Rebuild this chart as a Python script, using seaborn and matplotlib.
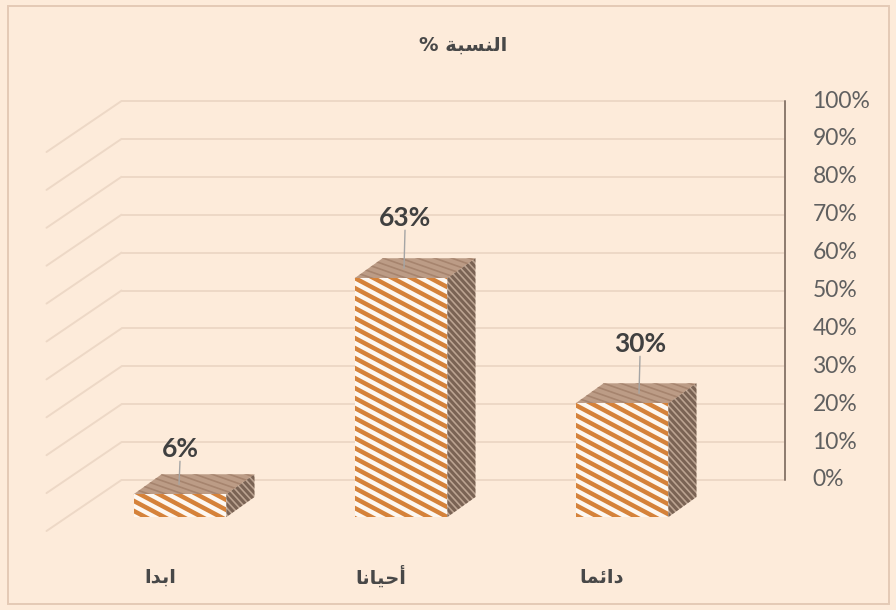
import matplotlib
matplotlib.use("Agg")
import matplotlib.pyplot as plt
from matplotlib.patches import Polygon, Rectangle
from matplotlib.collections import LineCollection
from matplotlib.transforms import IdentityTransform
import seaborn as sns

# ---- data -------------------------------------------------------------
categories = ["ابدا", "أحيانا", "دائما"]
percentages = [6, 63, 30]
value_ticks = [0, 10, 20, 30, 40, 50, 60, 70, 80, 90, 100]
tick_labels = [f"{t}%" for t in value_ticks]
chart_title = "النسبة %"

# ---- minimal Arabic contextual shaping (visual order for rendering) ----
FORMS = {
    "ا": ("\uFE8D", "\uFE8E", None, None),
    "أ": ("\uFE83", "\uFE84", None, None),
    "ب": ("\uFE8F", "\uFE90", "\uFE91", "\uFE92"),
    "ة": ("\uFE93", "\uFE94", None, None),
    "ح": ("\uFEA1", "\uFEA2", "\uFEA3", "\uFEA4"),
    "د": ("\uFEA9", "\uFEAA", None, None),
    "س": ("\uFEB1", "\uFEB2", "\uFEB3", "\uFEB4"),
    "ل": ("\uFEDD", "\uFEDE", "\uFEDF", "\uFEE0"),
    "م": ("\uFEE1", "\uFEE2", "\uFEE3", "\uFEE4"),
    "ن": ("\uFEE5", "\uFEE6", "\uFEE7", "\uFEE8"),
    "ي": ("\uFEF1", "\uFEF2", "\uFEF3", "\uFEF4"),
    "ئ": ("\uFE89", "\uFE8A", "\uFE8B", "\uFE8C"),
}


def joins_left(ch):
    return ch in FORMS and FORMS[ch][2] is not None


def shape(text):
    out = []
    for i, ch in enumerate(text):
        if ch not in FORMS:
            out.append(ch)
            continue
        prev = text[i - 1] if i > 0 else ""
        nxt = text[i + 1] if i + 1 < len(text) else ""
        from_prev = joins_left(prev)
        to_next = joins_left(ch) and nxt in FORMS
        iso, fin, ini, med = FORMS[ch]
        if from_prev and to_next:
            out.append(med)
        elif from_prev:
            out.append(fin)
        elif to_next:
            out.append(ini)
        else:
            out.append(iso)
    return "".join(reversed(out))


# ---- geometry of the oblique 3-D projection -----------------------------
W, H, DPI = 896, 610, 100
PX_CAT = 221.0      # pixels per category step
PX_PCT = 3.79       # pixels per percent
ORIGIN_X, ORIGIN_Y = 180.0, 517.0   # front-plane origin (pixels from top-left)


def off(dx_px, dy_px):
    """pixel offset (y downwards) -> data offset"""
    return dx_px / PX_CAT, -dy_px / PX_PCT


BACK = off(52, -37)        # bar front plane -> back wall
SIDE = off(-75, 51)        # back wall -> front edge of side wall
DEPTH = off(28, -20)       # bar front -> bar back
BAR_W = 0.42

BG = "#FDEBDA"
GRID = "#EDD8C6"
ORANGE = "#D5823A"
STRIPE_BG = "#FFF8F0"

sns.set_theme(style="white")
plt.rcParams["font.family"] = ["Lato", "DejaVu Sans"]

fig = plt.figure(figsize=(W / DPI, H / DPI), dpi=DPI, facecolor=BG)
ax = fig.add_axes([0, 0, 1, 1])
ax.set_facecolor(BG)

sns.barplot(x=categories, y=percentages, order=categories, ax=ax,
            width=BAR_W, color=STRIPE_BG, edgecolor="none", zorder=4)

ax.set_xlim(-ORIGIN_X / PX_CAT, (W - ORIGIN_X) / PX_CAT)
ax.set_ylim((ORIGIN_Y - H) / PX_PCT, ORIGIN_Y / PX_PCT)
ax.axis("off")

# chart frame
fig.patches.append(Rectangle((8 / W, 6 / H), 881 / W, 598 / H,
                             transform=fig.transFigure, fill=False,
                             edgecolor="#E4CAB5", linewidth=1.4))

# back wall and side wall gridlines
bx0, bx1 = -0.5 + BACK[0], 2.5 + BACK[0]
for v, lab in zip(value_ticks, tick_labels):
    y = v + BACK[1]
    ax.plot([bx0, bx1], [y, y], color=GRID, lw=1.4, zorder=1)
    ax.plot([bx0, bx0 + SIDE[0]], [y, y + SIDE[1]], color=GRID, lw=1.4, zorder=1)
    ax.text(bx1 + 28 / PX_CAT, y, lab, ha="left", va="center",
            fontsize=16.5, color="#606060", zorder=5)

ax.plot([bx1, bx1], [BACK[1], 100 + BACK[1]], color="#8C7A6E", lw=1.4, zorder=2)


def stripes(slope, period, lw, color):
    segs = []
    c = -1500
    while c < 2500:
        segs.append([(0, c), (W, c + slope * W)])
        c += period
    return LineCollection(segs, colors=color, linewidths=lw,
                          transform=IdentityTransform())


bars = ax.patches[:len(percentages)]
label_layout = [(-14, 45), (-10, 60), (4, 59)]   # (dx, dy) pixels from top-face
for bar, v, (ldx, ldy) in zip(bars, percentages, label_layout):
    x0 = bar.get_x()
    x1 = x0 + bar.get_width()
    top = bar.get_height()
    ddx, ddy = DEPTH

    # front face stripes
    lc = stripes(-0.53, 10, 3.2, ORANGE)
    lc.set_zorder(4.5)
    ax.add_collection(lc, autolim=False)
    lc.set_clip_path(bar)

    # right side face
    side = Polygon([(x1, 0), (x1, top), (x1 + ddx, top + ddy), (x1 + ddx, ddy)],
                   closed=True, facecolor="#BBA391", edgecolor="none", zorder=3)
    ax.add_patch(side)
    lc2 = stripes(-1.1, 7, 2.2, "#7A6354")
    lc2.set_zorder(3.5)
    ax.add_collection(lc2, autolim=False)
    lc2.set_clip_path(side)

    # top face
    topface = Polygon([(x0, top), (x1, top), (x1 + ddx, top + ddy), (x0 + ddx, top + ddy)],
                      closed=True, facecolor="#BC9C86", edgecolor="none", zorder=3)
    ax.add_patch(topface)
    lc3 = stripes(-0.35, 6, 1.2, "#A6846E")
    lc3.set_zorder(3.5)
    ax.add_collection(lc3, autolim=False)
    lc3.set_clip_path(topface)

    # value label with leader line
    cx = (x0 + x1) / 2 + ddx / 2
    cy = top + ddy / 2
    lx = cx + ldx / PX_CAT
    ly = top + ldy / PX_PCT
    ax.text(lx, ly, f"{v}%", ha="center", va="center", fontsize=19,
            fontweight="bold", color="#404040", zorder=6)
    ax.plot([lx, lx - 1 / PX_CAT], [ly - 12 / PX_PCT, cy], color="#A5A5A5",
            lw=1.0, zorder=6)

# category labels at the front edge of the floor
for i, cat in enumerate(categories):
    ax.text(i - 20 / PX_CAT, (ORIGIN_Y - 577) / PX_PCT, shape(cat),
            ha="center", va="center", fontsize=14, fontweight="bold",
            color="#484848", family=["DejaVu Sans"], zorder=6)

fig.text(463 / W, 1 - 45 / H, shape(chart_title), ha="center", va="center",
         fontsize=14, fontweight="bold", color="#484848", family=["DejaVu Sans"])

fig.savefig("out.png", dpi=DPI, facecolor=BG)
